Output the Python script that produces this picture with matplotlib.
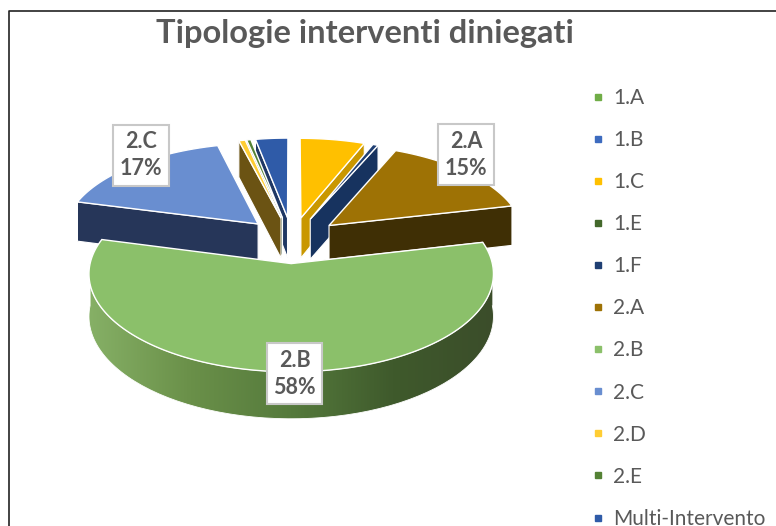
import numpy as np
import matplotlib
matplotlib.use('Agg')
import matplotlib.pyplot as plt
from matplotlib.colors import LinearSegmentedColormap
from matplotlib.lines import Line2D
from matplotlib.patches import Polygon

plt.rcParams['font.family'] = ['Lato', 'DejaVu Sans']

# data, clockwise from 12 o'clock
categories = ['1.A', '1.B', '1.C', '1.E', '1.F', '2.A', '2.B', '2.C', '2.D', '2.E', 'Multi-Intervento']
shares = [0, 0, 6.0, 0, 0.5, 15, 58, 17, 0.6, 0.4, 3.0]
labelled = ['2.A', '2.B', '2.C']
shown_pct = [15, 58, 17]

top_colors = ['#70ad47', '#3d6bbf', '#ffc000', '#43682b', '#1f3f73', '#9e7205',
              '#8bc06a', '#698ed0', '#ffcd33', '#548235', '#2f5ba8']
wall_colors = ['#43682b', '#24406f', '#c99700', '#2b421b', '#17335f', '#3f2f05',
               '#4f6f37', '#263659', '#6b5313', '#2b421b', '#1f3864']

# projection of the pie plane onto the image, in pixels
CX, CY = 292, 240
A, B = 196, 92
PERSP = 0.102
EXPLODE = 0.25
DEPTH = 41


def project(u, v, low=False):
    d = 1 / (1 + PERSP * v)
    x = CX + A * u * d
    y = CY - B * v * d
    if low:
        y = y + DEPTH * d
    return x, y


def slice_point(theta, r, mid):
    # theta clockwise from the top, degrees
    t, m = np.radians(theta), np.radians(mid)
    return r * np.sin(t) + EXPLODE * np.sin(m), r * np.cos(t) + EXPLODE * np.cos(m)


fig = plt.figure(figsize=(7.76, 5.26), dpi=100)
ax = fig.add_axes([0, 0, 1, 1])
ax.set_xlim(0, 776)
ax.set_ylim(526, 0)
ax.axis('off')

total = sum(shares)
ends = np.cumsum(shares) / total * 360
starts = ends - np.array(shares) / total * 360
mids = (starts + ends) / 2

order = sorted([i for i in range(len(shares)) if shares[i] > 0],
               key=lambda i: -np.cos(np.radians(mids[i])))
z = 2
for i in order:
    s, e, m = starts[i], ends[i], mids[i]
    # radial wall turned towards the viewer
    wall_angle = e if m < 180 else s
    tip = slice_point(0, 0, m)
    rim_pt = slice_point(wall_angle, 1, m)
    quad = [project(*tip), project(*rim_pt), project(*rim_pt, low=True), project(*tip, low=True)]
    ax.add_patch(Polygon(quad, closed=True, fc=wall_colors[i], ec='white', lw=0.8, zorder=z))
    z += 1
    # outer rim, only the front half shows
    a0, a1 = max(s, 90), min(e, 270)
    if a1 > a0:
        th = np.linspace(a0, a1, 120)
        upper = [project(*slice_point(t, 1, m)) for t in th]
        lower = [project(*slice_point(t, 1, m), low=True) for t in th[::-1]]
        rim = Polygon(upper + lower, closed=True, fc='none', ec='none', transform=ax.transData)
        ax.add_patch(rim)
        pts = np.array(upper + lower)
        cmap = LinearSegmentedColormap.from_list('rim', ['#86b066', '#6a9049', '#557a3c', '#3f5a2c', '#3b4d2a'])
        im = ax.imshow(np.linspace(0, 1, 256)[None, :], cmap=cmap, aspect='auto', zorder=z,
                       extent=(pts[:, 0].min(), pts[:, 0].max(), pts[:, 1].max(), pts[:, 1].min()))
        im.set_clip_path(rim)
        ax.plot(pts[:, 0], pts[:, 1], color='white', lw=0.6, zorder=z + 1)
        z += 2
    # top face
    th = np.linspace(s, e, max(int(e - s) * 2, 4))
    outline = [project(*tip)] + [project(*slice_point(t, 1, m)) for t in th]
    ax.add_patch(Polygon(outline, closed=True, fc=top_colors[i], ec='white', lw=1.0, zorder=z))
    z += 1

ax.set_xlim(0, 776)
ax.set_ylim(526, 0)

# data labels sit at the outer edge of the slice, nudged like in the original
label_shift = {'2.A': (0, -17), '2.B': (7, 2), '2.C': (7, -10)}
for name, pct in zip(labelled, shown_pct):
    i = categories.index(name)
    x, y = project(*slice_point(mids[i], 1, mids[i]))
    dx, dy = label_shift[name]
    ax.text(x + dx, y + dy, f'{name}\n{pct}%', ha='center', va='center', fontsize=15.5, fontweight='bold',
            color='#595959', linespacing=1.35, zorder=z + 1,
            bbox=dict(boxstyle='square,pad=0.3', fc='white', ec='#c8c8c8', lw=1.5))

ax.text(365, 33, 'Tipologie interventi diniegati', ha='center', va='center',
        fontsize=23.5, fontweight='bold', color='#595959')

handles = [Line2D([], [], ls='none', marker='s', ms=5, color=c) for c in top_colors]
ax.legend(handles, categories, loc='upper left', bbox_to_anchor=(587.6 / 776, 1 - 88 / 526),
          bbox_transform=fig.transFigure, frameon=False, fontsize=15, labelcolor='#595959',
          labelspacing=1.06, handletextpad=0.22, handlelength=1.0, borderpad=0, borderaxespad=0)

# frame of the pasted screenshot
ax.plot([8.5, 8.5, 776], [526, 10.5, 10.5], color='#222222', lw=1.2, zorder=1)

fig.savefig('out.png', dpi=100)
